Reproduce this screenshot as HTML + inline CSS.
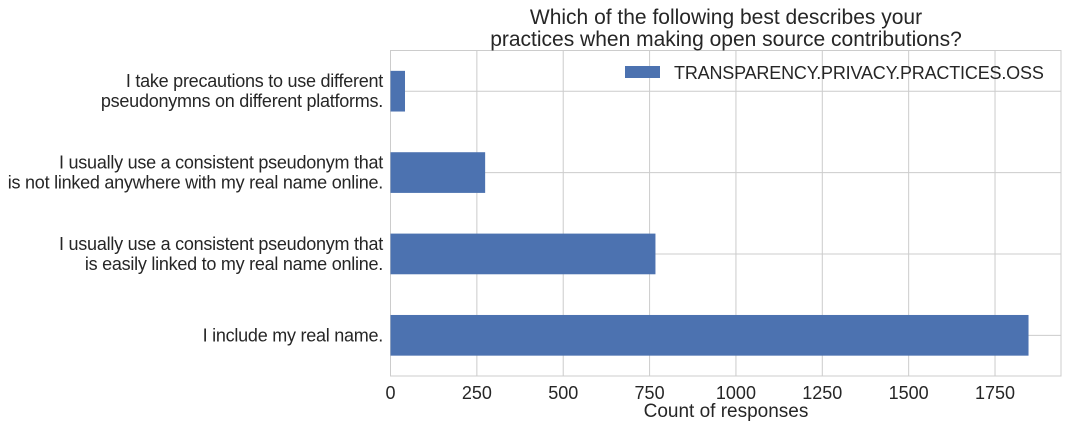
<!DOCTYPE html>
<html><head><meta charset="utf-8"><style>
body{margin:0;background:#fff;}
svg{display:block;font-family:"Liberation Sans",sans-serif;}
</style></head><body>
<svg id="chart" width="1067" height="428">
<g id="grid"></g><g id="bars"></g><g id="labels"></g>
<text x="726" y="24" text-anchor="middle" font-size="21" fill="#262626">Which of the following best describes your</text>
<text x="726" y="46" text-anchor="middle" font-size="21" fill="#262626">practices when making open source contributions?</text>
<text x="726" y="417" text-anchor="middle" font-size="19" fill="#262626">Count of responses</text>
<g>
<rect x="625" y="66" width="35" height="12" fill="#4c72b0"></rect>
<text x="674" y="79" font-size="18" letter-spacing="-0.18" fill="#262626">TRANSPARENCY.PRIVACY.PRACTICES.OSS</text>
</g>
</svg>
<script>
const categories=[["I take precautions to use different","pseudonymns on different platforms."],["I usually use a consistent pseudonym that","is not linked anywhere with my real name online."],["I usually use a consistent pseudonym that","is easily linked to my real name online."],["I include my real name."]];
const values=[42,274,767,1847];
const xTicks=[0,250,500,750,1000,1250,1500,1750];
const L=390.5,R=1061,T=50.5,B=376,XMAX=1941;
const x=v=>L+v/XMAX*(R-L);
const step=(B-T)/categories.length;
const y=i=>T+step*(i+0.5);
const NS="http://www.w3.org/2000/svg";
function mk(t,a,p){const e=document.createElementNS(NS,t);for(const k in a)e.setAttribute(k,a[k]);document.getElementById(p).appendChild(e);return e;}
xTicks.forEach(t=>{
 const l=mk('line',{x1:x(t),x2:x(t),y1:T,y2:B,stroke:'#cccccc','stroke-width':1},'grid');
 
 
 const tx=mk('text',{x:x(t),y:B+23,'text-anchor':'middle','font-size':18,fill:'#262626'},'labels');
 tx.textContent=t;
 
 
});
categories.forEach((c,i)=>{
 const l=mk('line',{x1:L,x2:R,y1:y(i),y2:y(i),stroke:'#cccccc','stroke-width':1},'grid');
 
 
 const b=mk('rect',{x:L,y:y(i)-step*0.25,width:x(values[i])-L,height:step*0.5,fill:'#4c72b0'},'bars');
 
 
 const n=c.length;
 c.forEach((line,j)=>{
  const tx=mk('text',{x:383,y:y(i)+6+(j-(n-1)/2)*20,'text-anchor':'end','font-size':18,'letter-spacing':-0.25,fill:'#262626'},'labels');
  tx.textContent=line;
  
  
 });
});
const fr=mk('rect',{x:L,y:T,width:R-L,height:B-T,fill:'none',stroke:'#cccccc','stroke-width':1},'grid');


</script>
</body></html>
